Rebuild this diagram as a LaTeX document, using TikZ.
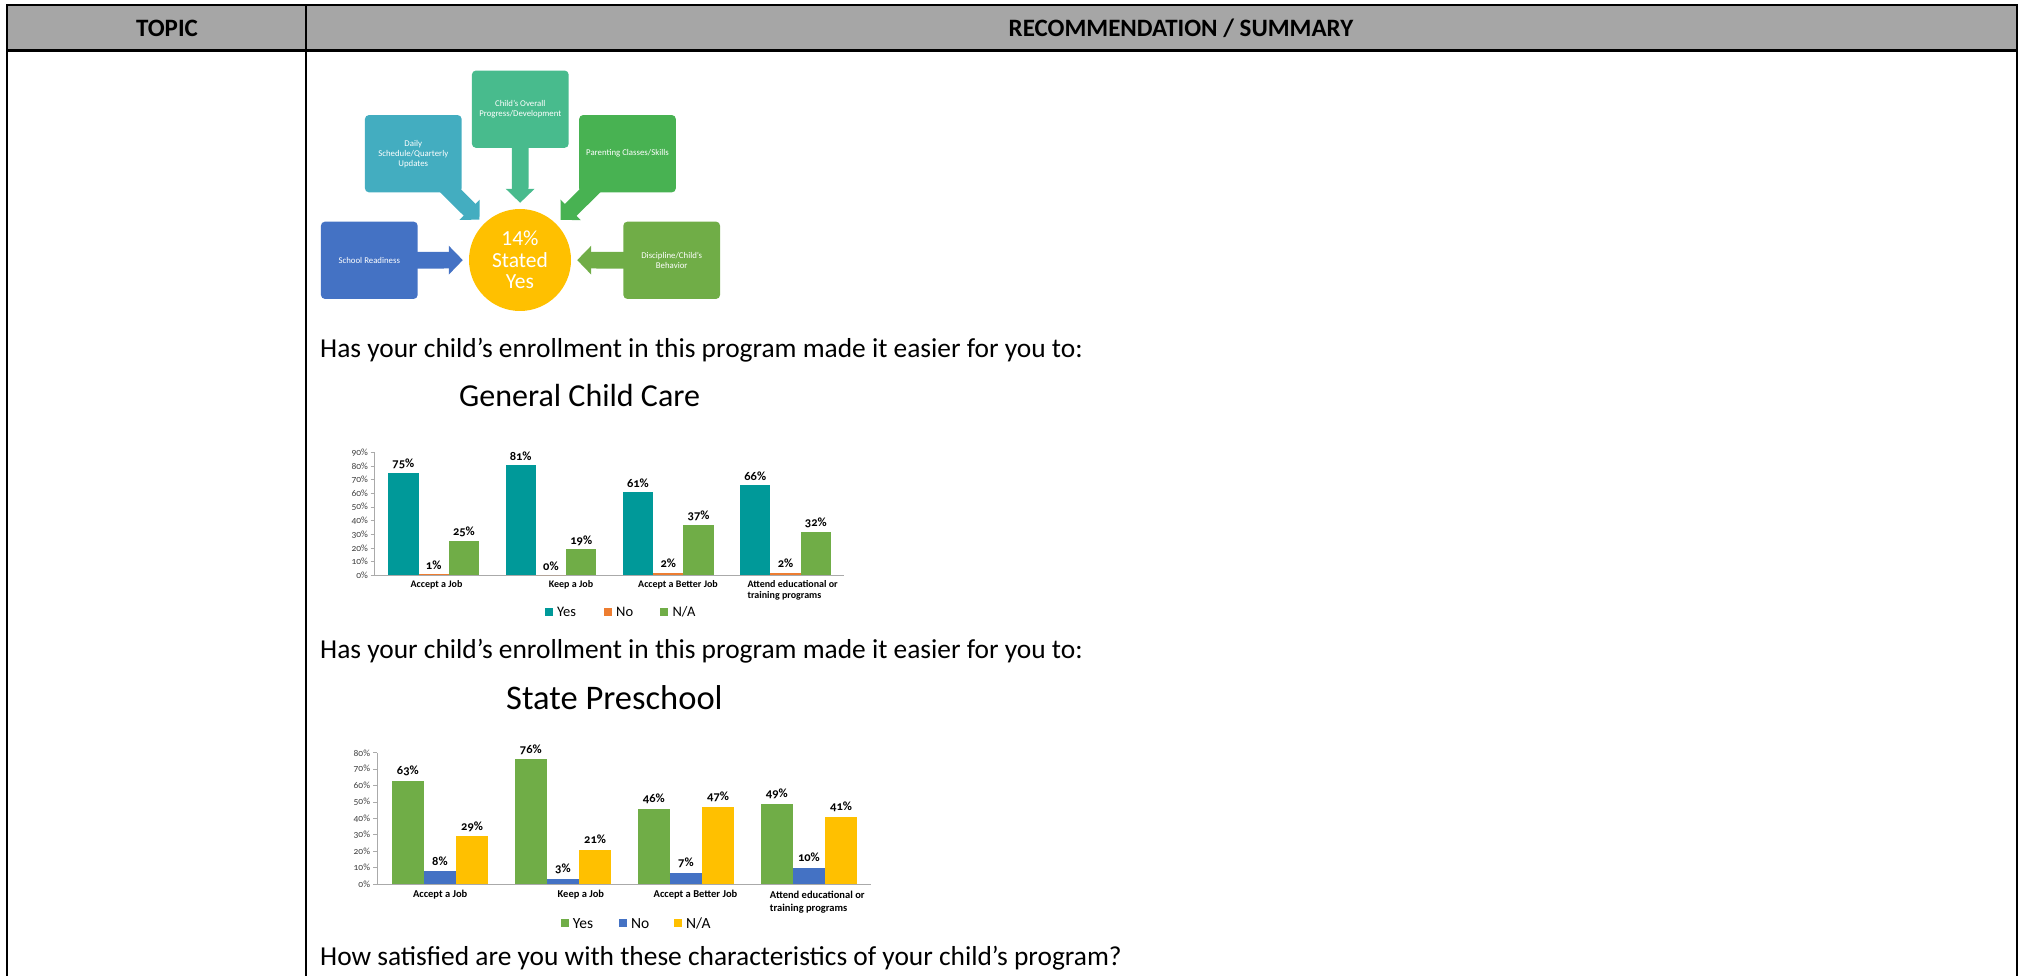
\documentclass[tikz,border=0pt]{standalone}
\usepackage{fontspec}
\usepackage{tikz}
\setmainfont{Carlito}
\newfontfamily\chartfont[Numbers=OldStyle]{Carlito}
\usetikzlibrary{arrows.meta,backgrounds,positioning}
\definecolor{hdrgray}{RGB}{166,166,166}
\definecolor{axisgray}{RGB}{170,170,170}
\definecolor{sblue}{RGB}{68,114,196}
\definecolor{steal}{RGB}{67,173,192}
\definecolor{smint}{RGB}{72,187,141}
\definecolor{sgreen}{RGB}{72,178,82}
\definecolor{solive}{RGB}{112,173,71}
\definecolor{gold}{RGB}{255,192,0}
\definecolor{cteal}{RGB}{0,153,153}
\definecolor{corange}{RGB}{237,125,49}

\tikzset{
  hdr/.style={font=\fontsize{25}{30}\selectfont\bfseries, inner sep=0pt},
  question/.style={font=\fontsize{27.4}{32}\selectfont, anchor=west, inner sep=0pt},
  charttitle/.style={font=\fontsize{32}{38}\selectfont, anchor=west, inner sep=0pt},
  topicbox/.style={rectangle, rounded corners=4pt, minimum width=96.7pt, minimum height=77.3pt,
    text=white, align=center, font=\fontsize{8.8}{10}\selectfont, inner sep=2pt},
  yesdot/.style={circle, fill=gold, minimum size=102pt, inner sep=0pt, text=white, align=center,
    font=\fontsize{21.5}{21.7}\selectfont},
  fatarrow/.style={line width=16.7pt, -{Triangle[length=14pt,width=28pt]}, shorten >=6pt},
  axis/.style={draw=axisgray, line width=1pt},
  ticklbl/.style={font=\chartfont\fontsize{9.5}{10}\selectfont, anchor=east, inner sep=0pt, text=black!75},
  vallbl/.style={font=\chartfont\bfseries\fontsize{12.5}{14}\selectfont, inner sep=0pt},
  catlbl/.style={font=\chartfont\bfseries\fontsize{10}{11.5}\selectfont, inner sep=0pt, align=left},
  legsq/.style={minimum size=8pt, inner sep=0pt},
  legtxt/.style={font=\fontsize{14.5}{16}\selectfont, inner sep=0pt},
}

\begin{document}
\begin{tikzpicture}[x=1pt,y=-1pt]
  \useasboundingbox (0,0) rectangle (2021,976);
  % header row of the table
  \fill[hdrgray] (7,5) rectangle (2017,51);
  \draw[line width=2.5pt] (7,976) -- (7,5) -- (2017,5) -- (2017,976);
  \draw[line width=3pt] (7,51) -- (2017,51);
  \draw[line width=2pt] (306,5) -- (306,976);
  \node[hdr] (topic) at (167,28) {TOPIC};
  \node[hdr] (summary) at (1181,28) {RECOMMENDATION / SUMMARY};

  % Label: circle with the share that stated yes, topics around it
  \node[yesdot] (yes) at (520,260) {14\%\\Stated\\Yes};
  \node[topicbox, fill=sblue] (school) at (369.3,260.3) {School Readiness};
  \node[topicbox, fill=steal] (daily) at (413.3,153.7) {Daily\\Schedule/Quarterly\\Updates};
  \node[topicbox, fill=smint] (overall) at (520.3,109.2) {Child’s Overall\\Progress/Development};
  \node[topicbox, fill=sgreen] (parenting) at (627.5,153.7) {Parenting Classes/Skills};
  \node[topicbox, fill=solive] (discipline) at (671.7,260.3) {Discipline/Child’s\\Behavior};
  \begin{scope}[on background layer]
    \draw[fatarrow, sblue] (school.center) -- (yes);
    \draw[fatarrow, steal] (daily.center) -- (yes);
    \draw[fatarrow, smint] (overall.center) -- (yes);
    \draw[fatarrow, sgreen] (parenting.center) -- (yes);
    \draw[fatarrow, solive] (discipline.center) -- (yes);
  \end{scope}

  % Label: first question, General Child Care
  \node[question] (q1) at (320,350.6) {Has your child’s enrollment in this program made it easier for you to:};
  \node[charttitle] (gcctitle) at (459,395.7) {General Child Care};
  \begin{scope}[shift={(374.7,575.3)}]
    % y axis with ticks
    \foreach \t in {0,...,9} {
      \pgfmathtruncatemacro{\p}{10*\t}
      \draw[axis] (-4,-13.62*\t) -- (0,-13.62*\t);
      \node[ticklbl] (gccy\t) at (-6.5,-13.62*\t) {\p\%};
    }
    \draw[axis] (0,-13.62*9) -- (0,0) -- (469.2,0);
    % bars: yes / no / n.a.
    \foreach \yes/\no/\na [count=\g from 0] in {75/1/25, 81/0/19, 61/2/37, 66/2/32} {
      \pgfmathsetmacro{\bx}{117.3*\g+13.5}
      \fill[cteal] (\bx,0) rectangle ++(30.3,-1.362*\yes);
      \fill[corange] (\bx+30.3,0) rectangle ++(30.3,-1.362*\no);
      \fill[solive] (\bx+60.6,0) rectangle ++(30.3,-1.362*\na);
      \node[vallbl] (gccyes\g) at (\bx+15.15,-1.362*\yes-9) {\yes\%};
      \node[vallbl] (gccno\g) at (\bx+45.45,-1.362*\no-9) {\no\%};
      \node[vallbl] (gccna\g) at (\bx+75.75,-1.362*\na-9) {\na\%};
    }
    % category labels
    \foreach \lbl/\cx [count=\g] in {Accept a Job/61.8, Keep a Job/196.3, Accept a Better Job/303.3} {
      \node[catlbl] (gcccat\g) at (\cx,9.7) {\lbl};
    }
    \node[catlbl] (gcccat4) at (418,15) {Attend educational or\\training programs};
    % legend
    \node[legsq, fill=cteal] (gccleg1) at (174,36.4) {};
    \node[legtxt, right=4pt of gccleg1] (gcclegt1) {Yes};
    \node[legsq, fill=corange] (gccleg2) at (233.1,36.4) {};
    \node[legtxt, right=4pt of gccleg2] (gcclegt2) {No};
    \node[legsq, fill=solive] (gccleg3) at (289.5,36.4) {};
    \node[legtxt, right=4pt of gccleg3] (gcclegt3) {N/A};
  \end{scope}

  % Label: second question, State Preschool
  \node[question] (q2) at (320,651) {Has your child’s enrollment in this program made it easier for you to:};
  \node[charttitle, font=\fontsize{34.5}{40}\selectfont] (sptitle) at (506,697.4) {State Preschool};
  \begin{scope}[shift={(377.3,884)}]
    % y axis with ticks
    \foreach \t in {0,...,8} {
      \pgfmathtruncatemacro{\p}{10*\t}
      \draw[axis] (-4,-16.4*\t) -- (0,-16.4*\t);
      \node[ticklbl] (spy\t) at (-7,-16.4*\t) {\p\%};
    }
    \draw[axis] (0,-16.4*8) -- (0,0) -- (494,0);
    % bars: yes / no / n.a.
    \foreach \yes/\no/\na [count=\g from 0] in {63/8/29, 76/3/21, 46/7/47, 49/10/41} {
      \pgfmathsetmacro{\bx}{123*\g+14.5}
      \fill[solive] (\bx,0) rectangle ++(32.1,-1.64*\yes);
      \fill[sblue] (\bx+32.1,0) rectangle ++(32.1,-1.64*\no);
      \fill[gold] (\bx+64.2,0) rectangle ++(32.1,-1.64*\na);
      \node[vallbl] (spyes\g) at (\bx+16.05,-1.64*\yes-10) {\yes\%};
      \node[vallbl] (spno\g) at (\bx+48.15,-1.64*\no-10) {\no\%};
      \node[vallbl] (spna\g) at (\bx+80.25,-1.64*\na-10) {\na\%};
    }
    % category labels
    \foreach \lbl/\cx [count=\g] in {Accept a Job/62.9, Keep a Job/203.6, Accept a Better Job/318.2} {
      \node[catlbl, font=\chartfont\bfseries\fontsize{10.5}{12}\selectfont] (spcat\g) at (\cx,11) {\lbl};
    }
    \node[catlbl, font=\chartfont\bfseries\fontsize{10.5}{13}\selectfont] (spcat4) at (440,17.7) {Attend educational or\\training programs};
    % legend
    \node[legsq, fill=solive] (spleg1) at (187.2,39.3) {};
    \node[legtxt, right=4pt of spleg1, font=\fontsize{15.5}{17}\selectfont] (splegt1) {Yes};
    \node[legsq, fill=sblue] (spleg2) at (245.4,39.3) {};
    \node[legtxt, right=4pt of spleg2, font=\fontsize{15.5}{17}\selectfont] (splegt2) {No};
    \node[legsq, fill=gold] (spleg3) at (300.5,39.3) {};
    \node[legtxt, right=4pt of spleg3, font=\fontsize{15.5}{17}\selectfont] (splegt3) {N/A};
  \end{scope}

  % Label: third question
  \node[question] (q3) at (320,957.7) {How satisfied are you with these characteristics of your child’s program?};
\end{tikzpicture}
\end{document}
